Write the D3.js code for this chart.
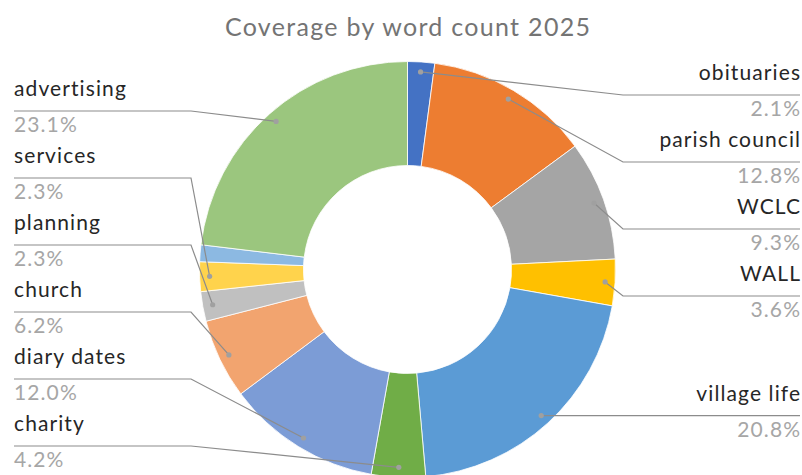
<!DOCTYPE html>
<html>
<head>
<meta charset="utf-8">
<script src="https://cdn.jsdelivr.net/npm/d3@7"></script>
<style>
  body { margin: 0; background: #fff; }
  svg { display: block; font-family: Lato, sans-serif; }
</style>
</head>
<body>
<svg id="chart"></svg>
<script>
// categories clockwise from 12 o'clock, share of word count in %
let categories = ['obituaries', 'parish council', 'WCLC', 'WALL', 'village life', 'charity',
  'diary dates', 'church', 'planning', 'services', '', 'advertising'];
let shares = [2.1, 12.8, 9.3, 3.6, 20.8, 4.2, 12.0, 6.2, 2.3, 2.3, 1.3, 23.1];
let colors = ['#4472C4', '#ED7D31', '#A5A5A5', '#FFC000', '#5B9BD5', '#70AD47',
  '#7C9CD6', '#F2A46F', '#C0C0C0', '#FFD34C', '#8CB9E2', '#9BC67E'];

let width = 802, height = 475;
let cx = 407.5, cy = 269.5,
  outerR = 208, innerR = 104;

let svg = d3.select('#chart')
  .attr('width', width)
  .attr('height', height);

let titleSpacing = 1.3;
svg.append('text')
  .attr('x', cx + titleSpacing / 2)
  .attr('y', 27)
  .attr('dy', '0.35em')
  .attr('text-anchor', 'middle')
  .attr('fill', '#747474')
  .attr('font-size', 25)
  .attr('letter-spacing', titleSpacing)
  .text('Coverage by word count 2025');

let data = categories.map((c, i) => ({name: c, value: shares[i], color: colors[i]}));

let pie = d3.pie()
  .sort(null)
  .value((d) => d.value);

let arcs = pie(data);

let arc = d3.arc()
  .innerRadius(innerR)
  .outerRadius(outerR);

let g = svg.append('g')
  .attr('transform', 'translate(' + cx + ',' + cy + ')');

g.selectAll('.slice')
  .data(arcs)
  .enter()
  .append('path')
  .attr('class', 'slice')
  .attr('d', arc)
  .attr('fill', (d) => d.data.color)
  .attr('stroke', '#fff')
  .attr('stroke-width', 0.8);

// label layout: leader line y starts at the dot, then stacked apart
let dotR = outerR - 10,
  gap = 67, lineTop = 95, lineBottom = 446,
  boxW = 177, rightX = 800, leftX = 14,
  labelSpacing = 1.1;

let labels = arcs.filter((d) => d.data.name !== '').map((d) => {
  let a = (d.startAngle + d.endAngle) / 2;
  return {
    d: d,
    right: a < Math.PI,
    dx: cx + dotR * Math.sin(a),
    dy: cy - dotR * Math.cos(a)
  };
});

[true, false].forEach((side) => {
  let list = labels.filter((l) => l.right === side).sort((a, b) => a.dy - b.dy);
  list.forEach((l, i) => {
    l.ly = Math.max(l.dy, lineTop, i ? list[i - 1].ly + gap : -Infinity);
  });
  for (let i = list.length - 1; i >= 0; i--) {
    let l = list[i];
    l.ly = Math.min(l.ly, i < list.length - 1 ? list[i + 1].ly - gap : lineBottom);
  }
});

let lab = svg.append('g').attr('class', 'labels');

let groups = lab.selectAll('.label')
  .data(labels)
  .enter()
  .append('g')
  .attr('class', 'label');

groups.append('polyline')
  .attr('points', (l) => {
    let outer = l.right ? rightX : leftX;
    let inner = l.right ? rightX - boxW : leftX + boxW;
    return [[l.dx, l.dy], [inner, l.ly], [outer, l.ly]].join(' ');
  })
  .attr('fill', 'none')
  .attr('stroke', '#8c8c8c')
  .attr('stroke-width', 1.2);

groups.append('circle')
  .attr('cx', (l) => l.dx)
  .attr('cy', (l) => l.dy)
  .attr('r', 2.6)
  .attr('fill', '#a0a0a0');

// text-anchor end also counts the trailing letter spacing
let textX = (l) => l.right ? rightX + labelSpacing : leftX;

groups.append('text')
  .attr('x', textX)
  .attr('y', (l) => l.ly - 22)
  .attr('dy', '0.35em')
  .attr('text-anchor', (l) => l.right ? 'end' : 'start')
  .attr('fill', '#262626')
  .attr('font-size', 21)
  .attr('letter-spacing', labelSpacing)
  .text((l) => l.d.data.name);

groups.append('text')
  .attr('x', textX)
  .attr('y', (l) => l.ly + 14)
  .attr('dy', '0.35em')
  .attr('text-anchor', (l) => l.right ? 'end' : 'start')
  .attr('fill', '#a6a6a6')
  .attr('font-size', 21)
  .attr('letter-spacing', labelSpacing)
  .text((l) => l.d.data.value.toFixed(1) + '%');
</script>
</body>
</html>
